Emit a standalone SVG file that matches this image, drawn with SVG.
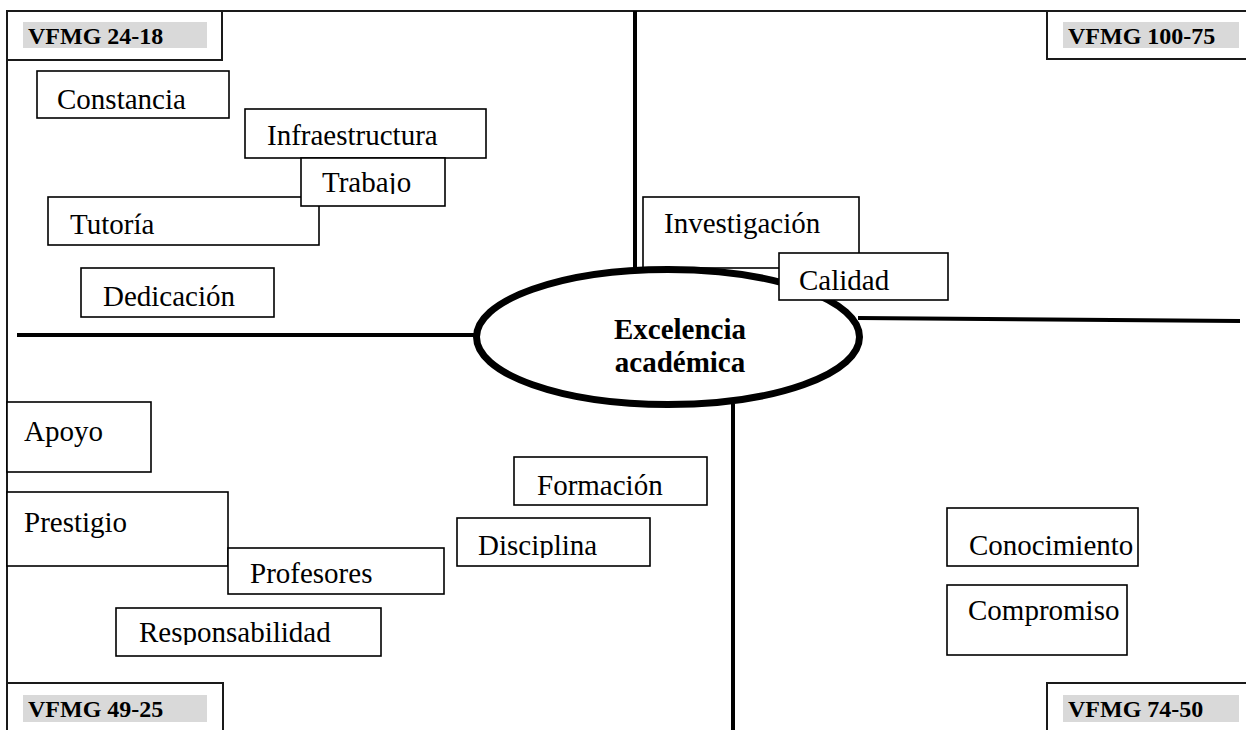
<svg xmlns="http://www.w3.org/2000/svg" width="1246" height="730" viewBox="0 0 1246 730">
<style>
.frame{fill:none;stroke:#1a1a1a;stroke-width:2}
.box{fill:#fff;stroke:#000;stroke-width:1.6}
.hl{fill:#d9d9d9}
.lbl{font-family:"Liberation Serif",serif;font-weight:bold;font-size:24px;fill:#000}
.t{font-family:"Liberation Serif",serif;font-size:29px;fill:#000}
.axis{stroke:#000;stroke-width:4;fill:none}
.main{fill:#fff;stroke:#000;stroke-width:7}
.mt{font-family:"Liberation Serif",serif;font-weight:bold;font-size:29px;fill:#000;text-anchor:middle}
</style>
<defs>
<clipPath id="cTrabajo"><rect x="301" y="158" width="144" height="36"/></clipPath>
<clipPath id="cDisc"><rect x="457" y="518" width="193" height="40"/></clipPath>
<clipPath id="cResp"><rect x="116" y="608" width="265" height="37"/></clipPath>
</defs>
<rect width="1246" height="730" fill="#fff"/>
<g id="frame">
<path class="frame" d="M7 11H1246M7 11V730"/>
</g>
<g id="connectors">
<path class="axis" d="M635 11V268"/>
<path class="axis" d="M17 335H474"/>
<path class="axis" d="M858 318L1240 321"/>
<path class="axis" d="M733 404V730"/>
</g>
<g id="q-24-18">
<rect class="frame" x="7" y="11" width="215" height="49"/>
<rect class="hl" x="23" y="22" width="184" height="26"/>
<text class="lbl" x="28" y="44">VFMG 24-18</text>
</g>
<g id="q-100-75">
<rect class="frame" x="1047" y="11" width="210" height="48"/>
<rect class="hl" x="1063" y="22" width="176" height="26"/>
<text class="lbl" x="1068" y="44">VFMG 100-75</text>
</g>
<g id="q-49-25">
<rect class="frame" x="7" y="683" width="216" height="60"/>
<rect class="hl" x="23" y="695" width="184" height="27"/>
<text class="lbl" x="28" y="717">VFMG 49-25</text>
</g>
<g id="q-74-50">
<rect class="frame" x="1047" y="683" width="210" height="60"/>
<rect class="hl" x="1063" y="695" width="176" height="27"/>
<text class="lbl" x="1068" y="717">VFMG 74-50</text>
</g>
<g id="n-constancia">
<rect class="box" x="37" y="71" width="192" height="47"/>
<text class="t" x="57" y="109">Constancia</text>
</g>
<g id="n-infraestructura">
<rect class="box" x="245" y="109" width="241" height="49"/>
<text class="t" x="267" y="145">Infraestructura</text>
</g>
<g id="n-tutoria">
<rect class="box" x="48" y="197" width="271" height="48"/>
<text class="t" x="70" y="234">Tutoría</text>
</g>
<g id="n-trabajo">
<rect class="box" x="301" y="158" width="144" height="48"/>
<text class="t" x="322" y="192" clip-path="url(#cTrabajo)">Trabajo</text>
</g>
<g id="n-dedicacion">
<rect class="box" x="81" y="268" width="193" height="49"/>
<text class="t" x="103" y="306">Dedicación</text>
</g>
<g id="n-investigacion">
<rect class="box" x="643" y="197" width="216" height="71"/>
<text class="t" x="664" y="233">Investigación</text>
</g>
<g id="n-excelencia">
<ellipse class="main" cx="668" cy="337" rx="191.5" ry="67.5"/>
<text class="mt" x="680" y="339">Excelencia</text>
<text class="mt" x="680" y="372">académica</text>
</g>
<g id="n-calidad">
<rect class="box" x="779" y="253" width="169" height="47"/>
<text class="t" x="799" y="290">Calidad</text>
</g>
<g id="n-apoyo">
<rect class="box" x="7" y="402" width="144" height="70"/>
<text class="t" x="24" y="441">Apoyo</text>
</g>
<g id="n-prestigio">
<rect class="box" x="7" y="492" width="221" height="74"/>
<text class="t" x="24" y="532">Prestigio</text>
</g>
<g id="n-formacion">
<rect class="box" x="514" y="457" width="193" height="48"/>
<text class="t" x="537" y="495">Formación</text>
</g>
<g id="n-disciplina">
<rect class="box" x="457" y="518" width="193" height="48"/>
<text class="t" x="478" y="555" clip-path="url(#cDisc)">Disciplina</text>
</g>
<g id="n-profesores">
<rect class="box" x="228" y="548" width="216" height="46"/>
<text class="t" x="250" y="583">Profesores</text>
</g>
<g id="n-responsabilidad">
<rect class="box" x="116" y="608" width="265" height="48"/>
<text class="t" x="139" y="642" clip-path="url(#cResp)">Responsabilidad</text>
</g>
<g id="n-conocimiento">
<rect class="box" x="947" y="508" width="191" height="58"/>
<text class="t" x="969" y="555">Conocimiento</text>
</g>
<g id="n-compromiso">
<rect class="box" x="947" y="585" width="180" height="70"/>
<text class="t" x="968" y="620">Compromiso</text>
</g>
</svg>
